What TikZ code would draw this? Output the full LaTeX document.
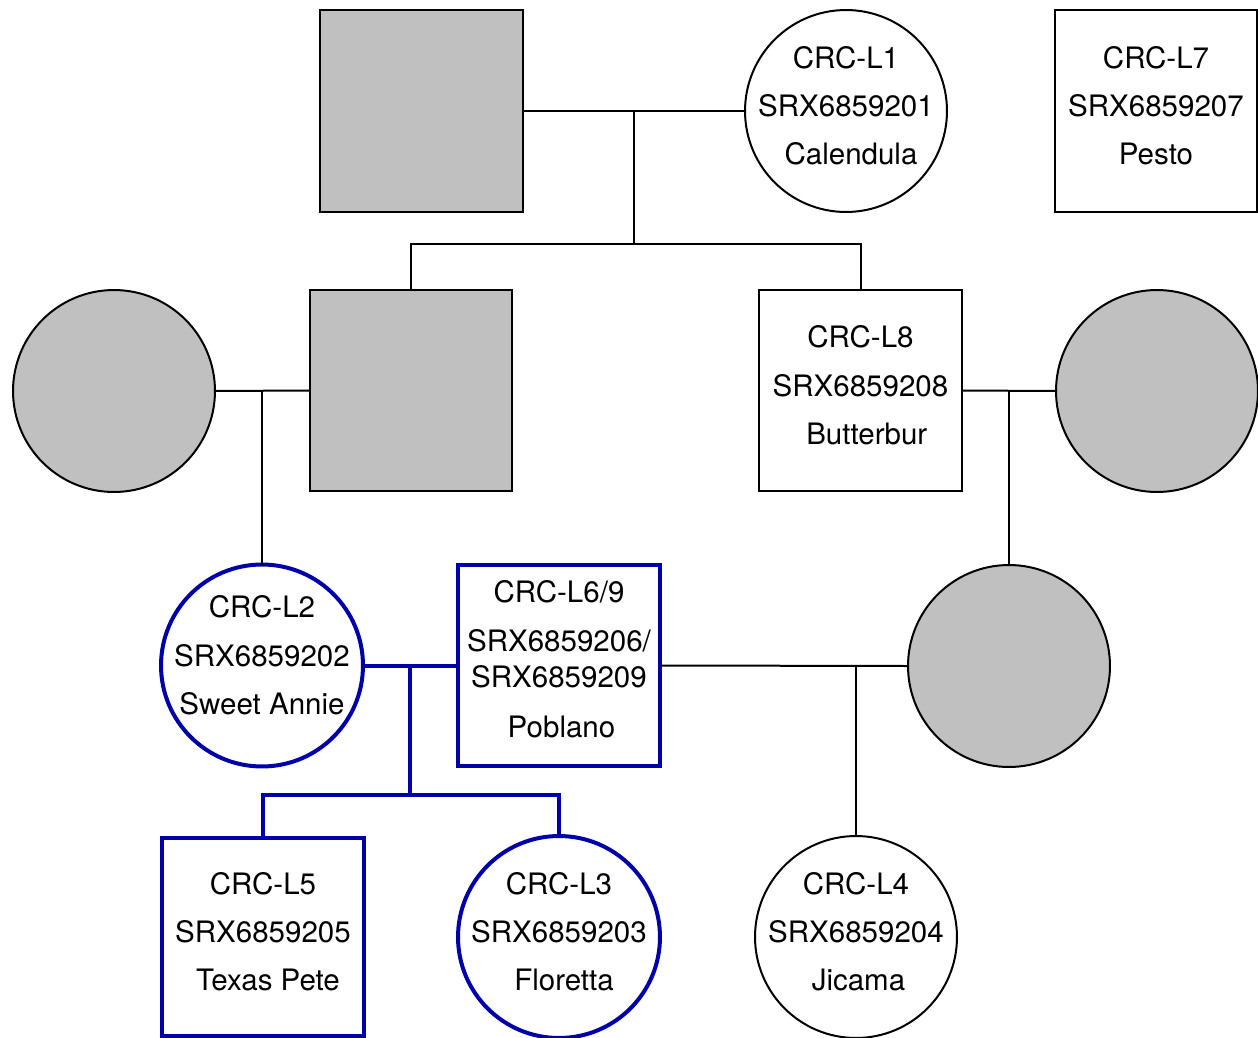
\documentclass[tikz,border=0pt]{standalone}
\usepackage{fontspec}
\setmainfont{TeX Gyre Heros}
\usetikzlibrary{calc}
\definecolor{pblue}{RGB}{0,0,170}
\definecolor{pgrey}{RGB}{192,192,192}
\newcommand{\tb}[2][0.08cm]{\raisebox{#1}[\height][\depth]{\begin{tabular}{@{}c@{}}#2\end{tabular}}}
\begin{document}
\begin{tikzpicture}[x=0.02cm,y=-0.02cm,
  base/.style={inner sep=0pt,outer sep=0pt,font=\fontsize{16.8}{27.4}\selectfont,line width=0.04cm,draw=black},
  sq/.style={base,rectangle,minimum width=4.06cm,minimum height=4.04cm},
  ci/.style={base,circle,inner sep=-2cm,minimum size=4.04cm},
  gci/.style={base,circle,inner sep=0pt,minimum size=4.04cm,fill=pgrey},
  grey/.style={fill=pgrey},
  bl/.style={draw=pblue,line width=0.08cm},
  link/.style={line width=0.04cm,black},
  blink/.style={line width=0.08cm,pblue}]
\useasboundingbox (0,0) rectangle (1258,1038);
% generation 1
\node[sq,grey] (gs1) at (421.5,111) {};
\node[ci] (L1) at (846,111) {\tb{CRC-L1\\SRX6859201\\\hspace{0.2cm}Calendula}};
\node[sq] (L7) at (1156,111) {\tb{CRC-L7\\SRX6859207\\Pesto}};
% generation 2
\node[gci] (gc1) at (114,391) {};
\node[sq,grey,minimum height=4.02cm] (gs2) at (411,390.5) {};
\node[sq,minimum height=4.02cm] (L8) at (860.5,390.5) {\tb{CRC-L8\\SRX6859208\\\hspace{0.25cm}Butterbur}};
\node[gci] (gc2) at (1157,391) {};
% generation 3
\node[ci,bl] (L2) at (262,665.5) {\tb[0.18cm]{CRC-L2\\SRX6859202\\Sweet Annie}};
\node[sq,bl,minimum height=4.02cm] (L69) at (559,665.5) {\tb[0.1cm]{CRC-L6/9\\SRX6859206/\\[-0.24cm]SRX6859209\\[0.04cm]\hspace{0.1cm}Poblano}};
\node[gci] (gc3) at (1009,666) {};
% generation 4
\node[sq,bl,minimum height=3.96cm] (L5) at (263,937) {\tb{CRC-L5\\SRX6859205\\\hspace{0.2cm}Texas Pete}};
\node[ci,bl] (L3) at (559,937) {\tb{CRC-L3\\SRX6859203\\\hspace{0.2cm}Floretta}};
\node[ci] (L4) at (856,937) {\tb{CRC-L4\\SRX6859204\\\hspace{0.1cm}Jicama}};
% connectors
\coordinate (m1) at ($(gs1.east)!0.5!(L1.west)$);
\coordinate (s1) at ($(m1)+(0,133)$);
\draw[link] (gs1.east) -- (L1.west);
\draw[link] (m1) -- (s1);
\draw[link] (gs2.north) |- (s1) -| (L8.north);
\coordinate (m2) at ($(gc1.east)!0.5!(gs2.west)$);
\draw[link] (gc1.east) -- (gs2.west);
\draw[link] (m2) -- (m2 |- L2.north);
\coordinate (m3) at ($(L8.east)!0.5!(gc2.west)$);
\draw[link] (L8.east) -- (gc2.west);
\draw[link] (m3) -- (m3 |- gc3.north);
\draw[link] (L69.east) -- (gc3.west);
\draw[link] (L4.north) -- (L4.north |- L69.east);
\coordinate (m4) at ($(L2.east)!0.5!(L69.west)$);
\coordinate (s3) at ($(m4)+(0,129)$);
\draw[blink] (L2.east) -- (L69.west);
\draw[blink] (m4) -- (s3);
\draw[blink] (L5.north) |- (s3) -| (L3.north);
\end{tikzpicture}
\end{document}
